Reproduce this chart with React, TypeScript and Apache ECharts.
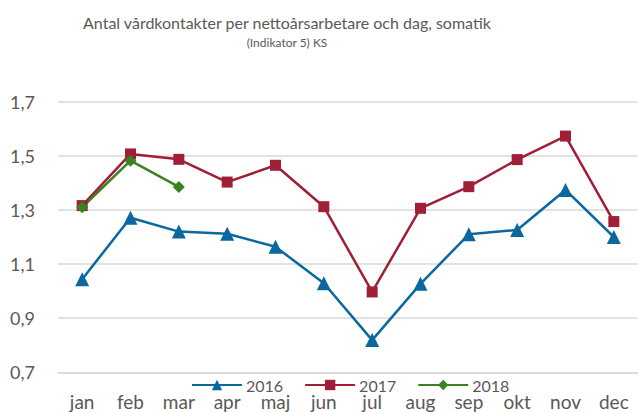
import React, { useEffect, useRef } from "react";
import * as echarts from "echarts";

const months = ["jan", "feb", "mar", "apr", "maj", "jun", "jul", "aug", "sep", "okt", "nov", "dec"];
const s2016 = [1.044, 1.271, 1.22, 1.212, 1.164, 1.029, 0.819, 1.027, 1.21, 1.226, 1.374, 1.2];
const s2017 = [1.316, 1.507, 1.487, 1.403, 1.465, 1.312, 0.997, 1.306, 1.386, 1.486, 1.573, 1.257];
const s2018 = [1.31, 1.482, 1.385];
const titleText = "Antal vårdkontakter per nettoårsarbetare och dag, somatik";
const subText = "(Indikator 5) KS";

const FONT = "Lato, 'Open Sans', sans-serif";
const GRAY = "#595959";

export default function App() {
  const ref = useRef<HTMLDivElement>(null);
  useEffect(() => {
    if (!ref.current) return;
    const chart = echarts.init(ref.current, undefined, { renderer: "svg" });
    const mk = (name: string, data: number[], color: string, symbol: string, size: number) => ({
      name,
      type: "line",
      data,
      symbol,
      symbolSize: size,
      showAllSymbol: true,
      lineStyle: { color, width: 2.5 },
      itemStyle: { color },
    });
    chart.setOption({
      animation: false,
      textStyle: { fontFamily: FONT },
      title: {
        text: titleText,
        subtext: subText,
        left: 282,
        textAlign: "center",
        top: 9,
        itemGap: 6,
        textStyle: { fontFamily: FONT, fontSize: 16, fontWeight: "normal", color: GRAY },
        subtextStyle: { fontFamily: FONT, fontSize: 12, color: GRAY },
      },
      legend: {
        data: ["2016", "2017", "2018"],
        left: 191,
        top: 377,
        padding: 0,
        itemWidth: 50,
        itemHeight: 13,
        itemGap: 21,
        textStyle: { fontFamily: FONT, fontSize: 16, color: GRAY, padding: [0, 0, 0, -1] },
      },
      grid: { left: 58, right: -4, top: 101.7, bottom: 412 - 372.3, containLabel: false },
      xAxis: {
        type: "category",
        data: months,
        boundaryGap: true,
        axisLine: { show: true, lineStyle: { color: "#d9d9d9", width: 1.5 } },
        axisTick: { show: false },
        axisLabel: { color: GRAY, fontSize: 19, fontFamily: FONT, margin: 20, interval: 0 },
      },
      yAxis: {
        type: "value",
        min: 0.7,
        max: 1.7,
        interval: 0.2,
        axisLine: { show: false },
        axisTick: { show: false },
        splitLine: { lineStyle: { color: "#d9d9d9", width: 1.5 } },
        axisLabel: {
          color: GRAY,
          fontSize: 18,
          fontFamily: FONT,
          margin: 23,
          formatter: (v: number) => v.toFixed(1).replace(".", ","),
        },
      },
      series: [
        mk("2016", s2016, "#0b689f", "triangle", 14),
        mk("2017", s2017, "#a01f37", "rect", 11),
        mk("2018", s2018, "#3b8222", "diamond", 12),
      ],
    });
    return () => chart.dispose();
  }, []);
  return <div ref={ref} style={{ width: 638, height: 412, position: "absolute", left: 0, top: 0 }} />;
}
